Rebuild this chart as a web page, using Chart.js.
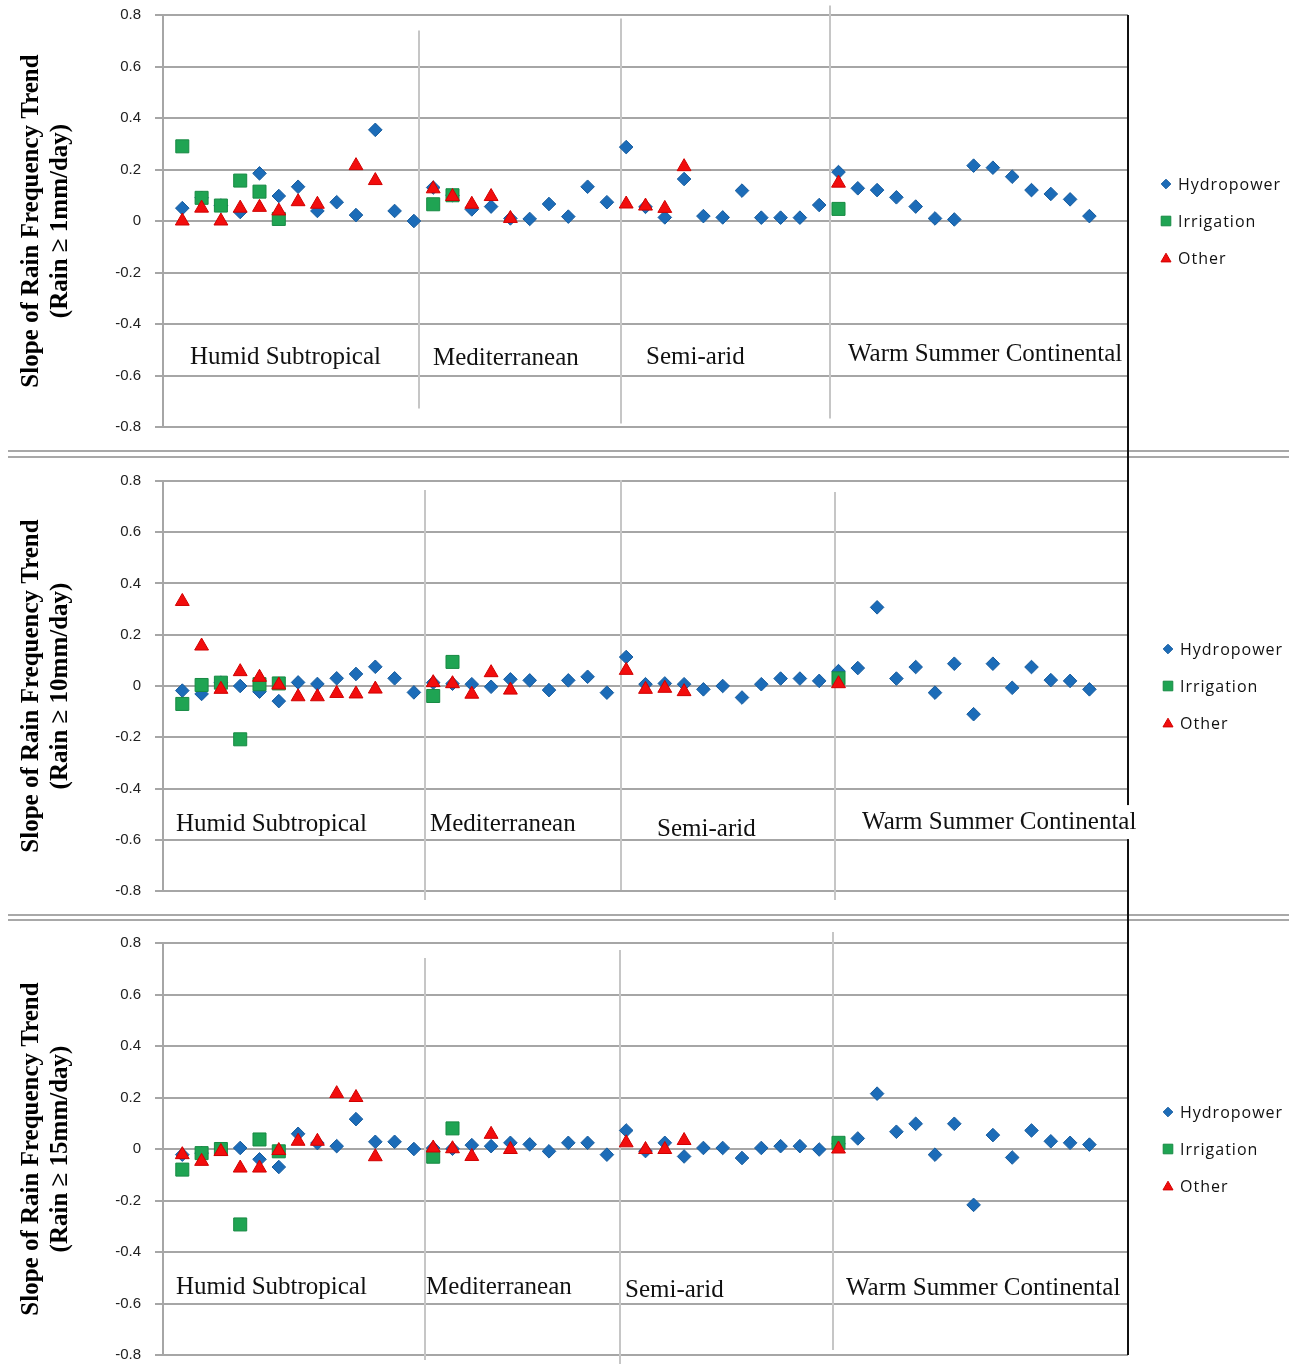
<!DOCTYPE html>
<html><head><meta charset="utf-8">
<script src="https://cdn.jsdelivr.net/npm/chart.js@4.4.0/dist/chart.umd.min.js"></script>
<style>
html,body{margin:0;padding:0;background:#fff;}
#wrap{position:relative;width:1299px;height:1364px;overflow:hidden;background:#fff;}
canvas{position:absolute;left:0;}
</style></head><body>
<div id="wrap">
<canvas id="c1" width="1299" height="472" style="top:-15px"></canvas>
<canvas id="c2" width="1299" height="480" style="top:441px"></canvas>
<canvas id="c3" width="1299" height="482" style="top:903px"></canvas>
</div>
<script>
// ---------- DATA ----------
const stations = [1,2,3,4,5,6,7,8,9,10,11,12,13,14,15,16,17,18,19,20,21,22,23,24,25,26,27,28,29,30,31,32,33,34,35,36,37,38,39,40,41,42,43,44,45,46,47,48];
const seriesNames = ['Hydropower','Irrigation','Other'];
const regionNames = ['Humid Subtropical','Mediterranean','Semi-arid','Warm Summer Continental'];
const yTicks = [0.8,0.6,0.4,0.2,0,-0.2,-0.4,-0.6,-0.8];
const yTitles = [
  ['Slope of Rain Frequency Trend','(Rain \u2265 1mm/day)'],
  ['Slope of Rain Frequency Trend','(Rain \u2265 10mm/day)'],
  ['Slope of Rain Frequency Trend','(Rain \u2265 15mm/day)']
];

// Panel 1 (Rain >= 1 mm/day)
const hydro1 = [0.05,0.09,0.06,0.035,0.185,0.097,0.133,0.039,0.073,0.023,0.354,0.039,0.0,
  0.13,0.10,0.045,0.056,0.01,0.008,0.066,0.017,0.133,0.073,
  0.287,0.055,0.014,0.163,0.019,0.014,0.118,0.013,0.013,0.013,0.062,
  0.19,0.127,0.12,0.092,0.056,0.01,0.006,0.215,0.207,0.172,0.12,0.105,0.084,0.019];
const irrStations = [1,2,3,4,5,6,14,15,35];
const irr1 = [0.29,0.09,0.06,0.157,0.114,0.008,0.065,0.10,0.047];
const otherStations1 = [1,2,3,4,5,6,7,8,10,11,14,15,16,17,18,24,25,26,27,35];
const other1 = [0.0,0.05,0.0,0.05,0.053,0.039,0.075,0.065,0.215,0.157,0.125,0.095,0.065,0.095,0.01,0.066,0.058,0.049,0.211,0.147];

// Panel 2 (Rain >= 10 mm/day)
const hydro2 = [-0.018,-0.031,0.013,0.0,-0.022,-0.059,0.014,0.008,0.03,0.047,0.075,0.03,-0.025,
  0.013,0.009,0.007,-0.003,0.026,0.022,-0.016,0.022,0.036,-0.026,
  0.113,0.007,0.01,0.007,-0.013,0.0,-0.045,0.007,0.029,0.029,0.02,
  0.058,0.07,0.307,0.029,0.074,-0.026,0.087,-0.11,0.087,-0.007,0.074,0.023,0.02,-0.013];
const irr2 = [-0.07,0.004,0.013,-0.208,0.007,0.01,-0.039,0.094,0.03];
const otherStations23 = [1,2,3,4,5,6,7,8,9,10,11,14,15,16,17,18,24,25,26,27,35];
const other2 = [0.33,0.156,-0.013,0.056,0.034,0.004,-0.042,-0.042,-0.029,-0.031,-0.012,0.013,0.009,-0.032,0.052,-0.016,0.061,-0.013,-0.009,-0.022,0.009];

// Panel 3 (Rain >= 15 mm/day)
const hydro3 = [-0.022,-0.016,0.0,0.004,-0.04,-0.07,0.059,0.023,0.011,0.116,0.028,0.028,0.0,
  0.004,0.001,0.015,0.011,0.024,0.018,-0.009,0.024,0.024,-0.022,
  0.072,-0.008,0.024,-0.029,0.004,0.004,-0.035,0.004,0.011,0.011,-0.002,
  0.02,0.041,0.215,0.067,0.098,-0.022,0.098,-0.217,0.054,-0.033,0.072,0.03,0.024,0.017];
const irr3 = [-0.08,-0.016,0.0,-0.293,0.037,-0.009,-0.03,0.08,0.024];
const other3 = [-0.022,-0.048,-0.01,-0.074,-0.074,-0.006,0.03,0.03,0.215,0.2,-0.03,0.004,0.001,-0.029,0.057,-0.002,0.024,-0.002,-0.002,0.033,0.0];

// ---------- LAYOUT / STYLE ----------
const COLORS = {
  hydro:{bg:'#1c6cb8', bd:'#175c9e'},
  irr:{bg:'#1fa453', bd:'#178a43'},
  other:{bg:'#f20d0d', bd:'#d00000'}
};
const panels = [
  {id:'c1', pad:{top:30,bottom:30}, hydro:hydro1, irr:irr1, otherSt:otherStations1, other:other1, title:yTitles[0],
   seps:[{x:13.26,y0:0.74,y1:-0.728},{x:23.73,y0:0.786,y1:-0.786},{x:34.56,y0:0.837,y1:-0.767}],
   labels:[{x:1.40,y:-0.53},{x:13.99,y:-0.534},{x:25.03,y:-0.53},{x:35.49,y:-0.518}],
   legendX:1178, black:{from:'top',to:472}, dbl:null},
  {id:'c2', pad:{top:40,bottom:30}, hydro:hydro2, irr:irr2, otherSt:otherStations23, other:other2, title:yTitles[1],
   seps:[{x:13.58,y0:0.765,y1:-0.835},{x:23.73,y0:0.804,y1:-0.796},{x:34.82,y0:0.757,y1:-0.835}],
   labels:[{x:0.67,y:-0.539},{x:13.83,y:-0.539},{x:25.6,y:-0.558},{x:36.22,y:-0.531,bg:true}],
   legendX:1180, black:{from:0,to:480}, dbl:[10,16]},
  {id:'c3', pad:{top:40,bottom:30}, hydro:hydro3, irr:irr3, otherSt:otherStations23, other:other3, title:yTitles[2],
   seps:[{x:13.58,y0:0.742,y1:-0.819},{x:23.68,y0:0.773,y1:-0.835},{x:34.72,y0:0.843,y1:-0.781}],
   labels:[{x:0.67,y:-0.536},{x:13.63,y:-0.536},{x:23.94,y:-0.548},{x:35.39,y:-0.54}],
   legendX:1180, black:{from:0,to:'bottom'}, dbl:[12,17]}
];

const decor = {
  id:'decor',
  beforeDatasetsDraw(chart, args, o){
    const {ctx, scales:{x,y}} = chart;
    ctx.save();
    ctx.strokeStyle = '#c6c6c6'; ctx.lineWidth = 2;
    o.seps.forEach(s=>{
      const px = Math.round(x.getPixelForValue(s.x));
      ctx.beginPath(); ctx.moveTo(px, y.getPixelForValue(s.y0)); ctx.lineTo(px, y.getPixelForValue(s.y1)); ctx.stroke();
    });
    ctx.restore();
  },
  afterDraw(chart, args, o){
    const {ctx, chartArea:a, scales:{x,y}} = chart;
    ctx.save();
    // double separator
    if (o.dbl){
      ctx.strokeStyle = '#a8a8a8'; ctx.lineWidth = 2;
      o.dbl.forEach(yy=>{ctx.beginPath(); ctx.moveTo(8,yy); ctx.lineTo(1289,yy); ctx.stroke();});
    }
    // right black border
    const t = o.black.from==='top' ? a.top : o.black.from;
    const b = o.black.to==='bottom' ? a.bottom : o.black.to;
    ctx.strokeStyle = '#111'; ctx.lineWidth = 2;
    ctx.beginPath(); ctx.moveTo(a.right, t); ctx.lineTo(a.right, b); ctx.stroke();
    // region labels
    ctx.font = '25px "Liberation Serif", "Times New Roman", serif';
    ctx.textBaseline = 'middle'; ctx.textAlign = 'left';
    regionNames.forEach((name,i)=>{
      const L = o.labels[i];
      const px = x.getPixelForValue(L.x), py = y.getPixelForValue(L.y);
      if (L.bg){
        const w = ctx.measureText(name).width;
        ctx.fillStyle = '#fff'; ctx.fillRect(px-4, py-17, w+8, 34);
      }
      ctx.fillStyle = '#111';
      ctx.fillText(name, px, py);
    });
    // legend
    const cy = (a.top + a.bottom)/2;
    const styles = [
      {pointStyle:'rectRot', radius:4.8, c:COLORS.hydro},
      {pointStyle:'rect', radius:6.8, c:COLORS.irr},
      {pointStyle:'triangle', radius:5.8, c:COLORS.other}
    ];
    ctx.font = '16px "Open Sans", sans-serif';
    try { ctx.letterSpacing = '1px'; } catch(e) {}
    seriesNames.forEach((n,i)=>{
      const yy = cy + (i-1)*37;
      const s = styles[i];
      ctx.fillStyle = s.c.bg; ctx.strokeStyle = s.c.bd; ctx.lineWidth = 1;
      Chart.helpers.drawPoint(ctx, {pointStyle:s.pointStyle, radius:s.radius, rotation:0, borderWidth:1}, o.legendX-12, yy + (s.pointStyle==='triangle'?1:0));
      ctx.fillStyle = '#111';
      ctx.textBaseline = 'middle';
      ctx.fillText(n, o.legendX, yy+1);
    });
    ctx.restore();
  }
};

panels.forEach(p=>{
  const ctx = document.getElementById(p.id);
  new Chart(ctx, {
    type:'scatter',
    data:{datasets:[
      {label:seriesNames[0], order:3, data:stations.map((s,i)=>({x:s,y:p.hydro[i]})),
       pointStyle:'rectRot', pointRadius:6.8, backgroundColor:COLORS.hydro.bg, borderColor:COLORS.hydro.bd, borderWidth:1},
      {label:seriesNames[1], order:2, data:irrStations.map((s,i)=>({x:s,y:p.irr[i]})),
       pointStyle:'rect', pointRadius:9.2, backgroundColor:COLORS.irr.bg, borderColor:COLORS.irr.bd, borderWidth:1},
      {label:seriesNames[2], order:1, data:p.otherSt.map((s,i)=>({x:s,y:p.other[i]})),
       pointStyle:'triangle', pointRadius:8, backgroundColor:COLORS.other.bg, borderColor:COLORS.other.bd, borderWidth:1}
    ]},
    options:{
      responsive:false, animation:false, devicePixelRatio:1,
      events:[],
      layout:{padding:{left:0,right:171,top:p.pad.top,bottom:p.pad.bottom}},
      plugins:{legend:{display:false}, tooltip:{enabled:false}, decor:p},
      scales:{
        x:{type:'linear', min:0, max:50, display:false},
        y:{type:'linear', min:-0.8, max:0.8,
          afterBuildTicks(s){ s.ticks = yTicks.map(v=>({value:v})); },
          afterFit(s){ s.width = 163; },
          ticks:{padding:14, color:'#222', font:{family:'"Liberation Sans", Arial, sans-serif', size:15},
            callback:(v)=>String(Math.round(v*10)/10)},
          grid:{color:'#a6a6a6', lineWidth:2, tickLength:8, tickColor:'#a6a6a6', drawTicks:true},
          border:{color:'#a6a6a6', width:2},
          title:{display:true, text:p.title, color:'#000', padding:{top:17,bottom:0},
            font:{family:'"Liberation Serif", "Times New Roman", serif', size:25, weight:'bold', lineHeight:1.16}}
        }
      }
    },
    plugins:[decor]
  });
});
</script>
</body></html>
